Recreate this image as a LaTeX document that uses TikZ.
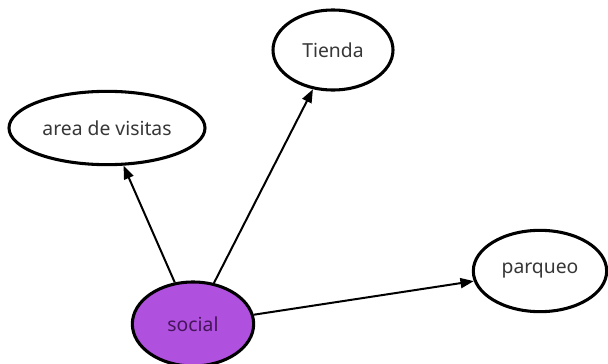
\documentclass[tikz,border=0pt]{standalone}
\usepackage{fontspec}
\setmainfont{Noto Sans}
\usepackage{xcolor}
\usepackage{tikz}
\usetikzlibrary{arrows.meta, shapes.geometric}
\definecolor{dpurple}{RGB}{176, 80, 222}
\definecolor{dtext}{RGB}{55, 55, 55}
\definecolor{dptext}{RGB}{70, 20, 90}

\begin{document}
\begin{tikzpicture}[
  x=0.75pt, y=-0.75pt,
  oval/.style={ellipse, draw, line width=2.3pt, fill=white,
               inner sep=0pt, text=dtext,
               font=\fontsize{14.5}{16}\selectfont},
  arr/.style={-{Triangle[length=10pt, width=7.5pt]}, line width=1.5pt}
]
  \useasboundingbox (0,0) rectangle (608,364);

  \node[oval, minimum width=147pt, minimum height=55pt] (area) at (107,128)
    {area de visitas};
  \node[oval, minimum width=90pt, minimum height=60pt] (tienda) at (333,50)
    {Tienda};
  \node[oval, minimum width=100pt, minimum height=61pt] (parqueo) at (540,271)
    {parqueo};
  \node[oval, fill=dpurple, text=dptext,
        minimum width=91pt, minimum height=63pt] (social) at (193,324)
    {social};

  \draw[arr] (social) -- (area);
  \draw[arr] (social) -- (tienda);
  \draw[arr] (social) -- (parqueo);

\end{tikzpicture}
\end{document}
